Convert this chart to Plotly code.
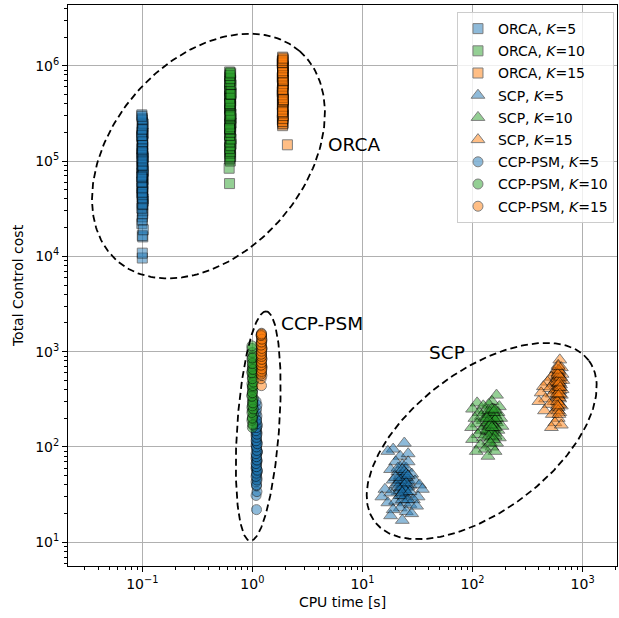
import numpy as np
import plotly.graph_objects as go

# ---------------- data ----------------
ORCA_K5_X = [0.1, 0.1, 0.101, 0.1, 0.099, 0.1, 0.101, 0.1, 0.102, 0.1, 0.099, 0.101, 0.1, 0.1, 0.102, 0.1, 0.099, 0.1, 0.101, 0.1,
             0.1, 0.102, 0.099, 0.1, 0.101, 0.1, 0.1, 0.099, 0.102, 0.1, 0.101, 0.1, 0.1, 0.099, 0.101, 0.1, 0.102, 0.1, 0.1, 0.1,
             0.1, 0.101, 0.099, 0.1, 0.102, 0.1, 0.099, 0.101, 0.1, 0.101, 0.099, 0.1, 0.102, 0.1, 0.099, 0.101, 0.1, 0.101,
             0.099, 0.1, 0.102, 0.1, 0.099, 0.101, 0.1, 0.101, 0.099, 0.1, 0.102, 0.1, 0.099, 0.101, 0.1, 0.101, 0.099, 0.1,
             0.102, 0.1, 0.099, 0.101]
ORCA_K5_Y = [9.6e3, 1.08e4, 1.6e4, 1.65e4, 2.2e4, 2.6e4, 3.0e4, 3.4e4, 3.8e4, 4.2e4, 4.6e4, 5.0e4, 5.4e4, 5.9e4, 6.4e4, 6.9e4,
             7.5e4, 8.1e4, 8.8e4, 9.5e4, 1.03e5, 1.11e5, 1.2e5, 1.3e5, 1.4e5, 1.52e5, 1.65e5, 1.8e5, 1.95e5, 2.1e5, 2.3e5,
             2.55e5, 2.8e5, 3.05e5, 4.8e4, 6.2e4, 7.8e4, 9.9e4, 1.25e5, 1.58e5,
             2.4e4, 2.8e4, 3.2e4, 3.6e4, 4.0e4, 4.4e4, 5.2e4, 5.7e4, 6.6e4, 7.2e4, 8.5e4, 9.2e4, 1.07e5, 1.16e5, 1.35e5,
             1.46e5, 1.72e5, 1.86e5, 2.0e5, 2.2e5, 2.45e5, 2.7e5, 2.95e5, 3.5e4, 4.1e4, 5.3e4, 6.0e4, 7.0e4, 8.2e4, 9.0e4,
             1.08e5, 1.22e5, 1.33e5, 1.6e5, 1.85e5, 2.15e5, 1.9e4, 4.7e4, 6.8e4, 1.0e5]

ORCA_K10_X = [0.62, 0.615, 0.63, 0.62, 0.635, 0.625, 0.63, 0.62, 0.64, 0.625, 0.63, 0.62, 0.635, 0.625, 0.63, 0.62, 0.64, 0.625,
              0.63, 0.62, 0.635, 0.625, 0.63, 0.62, 0.64, 0.625, 0.63, 0.62, 0.635, 0.625, 0.63, 0.62, 0.64, 0.625, 0.63, 0.62,
              0.625, 0.63, 0.62, 0.635, 0.625, 0.64, 0.62, 0.63, 0.625, 0.635, 0.62, 0.63, 0.625, 0.64, 0.62, 0.63, 0.625,
              0.635, 0.62, 0.63, 0.625, 0.64, 0.62, 0.63, 0.625, 0.635, 0.62, 0.63, 0.625, 0.64]
ORCA_K10_Y = [5.8e4, 8.4e4, 1.0e5, 1.05e5, 1.12e5, 1.2e5, 1.3e5, 1.4e5, 1.5e5, 1.62e5, 1.75e5, 1.9e5, 2.05e5, 2.2e5, 2.4e5,
              2.6e5, 2.8e5, 3.0e5, 3.25e5, 3.5e5, 3.8e5, 4.1e5, 4.4e5, 4.8e5, 5.2e5, 5.6e5, 6.0e5, 6.5e5, 7.0e5, 7.6e5,
              8.2e5, 8.6e5, 2.5e5, 3.6e5, 4.6e5, 5.4e5,
              1.1e5, 1.25e5, 1.35e5, 1.45e5, 1.58e5, 1.7e5, 1.85e5, 2.0e5, 2.15e5, 2.3e5, 2.45e5, 2.7e5, 2.9e5, 3.1e5,
              3.4e5, 3.7e5, 3.95e5, 4.25e5, 4.55e5, 5.0e5, 5.8e5, 6.3e5, 6.8e5, 7.3e5, 7.9e5, 8.4e5, 2.2e5, 3.0e5, 4.0e5, 5.0e5]

ORCA_K15_X = [2.08, 1.88, 1.9, 1.87, 1.89, 1.91, 1.88, 1.9, 1.87, 1.89, 1.91, 1.88, 1.9, 1.87, 1.89, 1.91, 1.88, 1.9, 1.87,
              1.89, 1.91, 1.88, 1.9, 1.87, 1.89, 1.91, 1.88, 1.9, 1.87, 1.89, 1.91, 1.88, 1.9, 1.87,
              1.89, 1.88, 1.9, 1.91, 1.87, 1.89, 1.9, 1.88, 1.91, 1.89, 1.87, 1.9, 1.88, 1.89, 1.91, 1.9, 1.87, 1.88, 1.89,
              1.9, 1.91, 1.88, 1.87, 1.89, 1.9, 1.88, 1.91, 1.89, 1.9, 1.88]
ORCA_K15_Y = [1.48e5, 2.35e5, 2.5e5, 2.7e5, 2.9e5, 3.1e5, 3.35e5, 3.6e5, 3.9e5, 4.2e5, 4.5e5, 4.8e5, 5.1e5, 5.5e5, 5.9e5,
              6.3e5, 6.7e5, 7.1e5, 7.6e5, 8.1e5, 8.6e5, 9.2e5, 9.8e5, 1.04e6, 1.1e6, 1.16e6, 1.23e6, 4.0e5, 5.3e5, 6.5e5,
              7.9e5, 9.0e5, 1.0e6, 1.12e6,
              2.45e5, 2.6e5, 2.8e5, 3.0e5, 3.2e5, 3.5e5, 3.75e5, 4.1e5, 4.35e5, 4.65e5, 4.95e5, 5.3e5, 5.7e5, 6.1e5, 6.5e5,
              6.9e5, 7.4e5, 7.8e5, 8.3e5, 8.8e5, 9.5e5, 1.0e6, 1.07e6, 1.14e6, 1.2e6, 3.3e5, 4.4e5, 5.6e5, 7.0e5, 8.5e5]

SCP_K5_X = [24, 19, 17, 22, 26, 20, 23, 25, 18, 21, 28, 24, 22, 19, 26, 23, 20, 25, 27, 22, 24, 21, 18, 26, 23, 30, 33, 35,
            32, 29, 16, 15, 17, 20, 24, 27, 22, 19, 25, 18, 28, 23, 31, 21, 26,
            22, 23, 24, 25, 21, 23, 24, 26, 22, 25, 24, 23, 22, 26, 21, 24, 23, 25, 22, 24, 23, 25, 27, 20, 26]
SCP_K5_Y = [110, 95, 90, 80, 85, 70, 65, 60, 58, 55, 52, 50, 48, 45, 45, 42, 40, 38, 40, 37, 35, 34, 33, 32, 31, 44, 40, 36,
            30, 28, 36, 30, 26, 27, 26, 25, 23, 22, 21, 19, 20, 17, 24, 60, 70,
            50, 47, 44, 48, 42, 38, 40, 38, 35, 34, 30, 28, 31, 28, 38, 55, 58, 52, 45, 36, 33, 42, 34, 48, 50]

SCP_K10_X = [165, 150, 110, 140, 125, 175, 100, 155, 130, 115, 170, 145, 160, 120, 135, 105, 180, 150, 125, 140, 165, 110,
             155, 130, 185, 98, 145, 120, 170, 135, 160, 112, 150, 125, 175, 100, 140, 165, 118, 150, 130, 160, 108, 138, 145,
             140, 150, 145, 155, 135, 160, 150, 140, 155, 145, 160, 135, 150, 165, 140, 155, 145, 150, 160, 140, 155, 145,
             135, 150, 160]
SCP_K10_Y = [350, 300, 290, 280, 270, 265, 250, 250, 240, 230, 230, 225, 215, 210, 205, 200, 200, 195, 190, 185, 180, 175,
             170, 165, 165, 160, 155, 150, 150, 145, 140, 135, 130, 125, 125, 120, 115, 110, 105, 100, 95, 90, 90, 80, 200,
             220, 210, 190, 200, 180, 190, 175, 165, 155, 145, 160, 150, 140, 200, 240, 230, 170, 160, 130, 130, 120, 110,
             200, 250, 245]

SCP_K15_X = [620, 600, 640, 580, 610, 560, 650, 590, 520, 620, 570, 660, 480, 600, 540, 630, 580, 440, 610, 500, 650, 560,
             600, 420, 530, 640, 580, 460, 620, 550, 600, 400, 500, 640, 580, 450, 620, 530, 600, 560, 520, 640,
             600, 610, 590, 620, 600, 610, 590, 620, 600, 610, 590, 620, 600, 580, 630, 605, 595, 615, 585, 625, 600, 610,
             590, 620, 600]
SCP_K15_Y = [820, 720, 680, 650, 620, 600, 580, 560, 540, 530, 510, 500, 480, 480, 460, 450, 440, 430, 420, 410, 400, 390,
             380, 370, 360, 350, 340, 320, 320, 300, 290, 300, 280, 270, 250, 240, 230, 220, 200, 180, 160, 170,
             600, 560, 520, 500, 460, 430, 400, 390, 350, 330, 300, 280, 260, 480, 540, 640, 580, 470, 360, 420, 240, 220,
             270, 360, 700]

CCP_K5_X = [1.09, 1.08, 1.1, 1.09, 1.08, 1.1, 1.09, 1.11, 1.08, 1.09, 1.1, 1.08, 1.09, 1.11, 1.09, 1.08, 1.1, 1.09, 1.08,
            1.1, 1.09, 1.11, 1.08, 1.09, 1.1, 1.08, 1.09, 1.1, 1.08, 1.09, 1.1, 1.11, 1.09, 1.08,
            1.09, 1.1, 1.08, 1.09, 1.11, 1.09, 1.08, 1.1, 1.09, 1.08, 1.1, 1.09, 1.11, 1.08, 1.09, 1.1, 1.08, 1.09, 1.1, 1.09]
CCP_K5_Y = [22, 31, 34, 39, 43, 47, 51, 55, 60, 65, 70, 76, 82, 89, 96, 104, 112, 121, 131, 142, 154, 167, 181, 196, 212,
            230, 250, 275, 300, 58, 72, 88, 110, 140,
            40, 45, 49, 53, 57, 62, 67, 73, 79, 85, 92, 100, 108, 116, 126, 136, 148, 160, 175, 190]

CCP_K10_X = [1.0, 1.01, 0.99, 1.0, 1.02, 1.0, 0.99, 1.01, 1.0, 1.02, 0.99, 1.0, 1.01, 1.0, 0.99, 1.02, 1.0, 1.01, 0.99,
             1.0, 1.02, 1.0, 0.99, 1.01, 1.0, 0.99, 0.99, 1.01, 1.0, 1.02, 1.0,
             1.01, 1.0, 0.99, 1.02, 1.0, 1.01, 0.99, 1.0, 1.01, 1.02, 1.0, 0.99, 1.01, 1.0, 1.0]
CCP_K10_Y = [160, 175, 190, 205, 220, 240, 260, 280, 300, 325, 350, 375, 400, 430, 460, 500, 540, 580, 620, 670, 720, 780,
             840, 900, 980, 1080, 1150, 310, 420, 560, 700,
             170, 200, 230, 250, 270, 290, 340, 370, 440, 480, 520, 600, 650, 750, 860]

CCP_K15_X = [1.21, 1.2, 1.22, 1.21, 1.2, 1.22, 1.21, 1.2, 1.22, 1.21, 1.2, 1.22, 1.21, 1.2, 1.22, 1.21, 1.2, 1.21, 1.22,
             1.2, 1.21, 1.22, 1.2, 1.21,
             1.2, 1.21, 1.22, 1.2, 1.21, 1.22, 1.21, 1.2, 1.21, 1.22, 1.2, 1.21, 1.22, 1.2, 1.21]
CCP_K15_Y = [440, 520, 560, 600, 640, 690, 740, 790, 850, 910, 980, 1050, 1130, 1210, 1300, 1400, 1500, 1560, 700, 820,
             950, 1100, 1250, 1450,
             580, 620, 660, 720, 770, 830, 890, 940, 1010, 1080, 1170, 1260, 1350, 1480, 1530]

SERIES = [
    ("ORCA, <i>K</i>=5", ORCA_K5_X, ORCA_K5_Y, "square", "#1f77b4"),
    ("ORCA, <i>K</i>=10", ORCA_K10_X, ORCA_K10_Y, "square", "#2ca02c"),
    ("ORCA, <i>K</i>=15", ORCA_K15_X, ORCA_K15_Y, "square", "#ff7f0e"),
    ("SCP, <i>K</i>=5", SCP_K5_X, SCP_K5_Y, "triangle-up", "#1f77b4"),
    ("SCP, <i>K</i>=10", SCP_K10_X, SCP_K10_Y, "triangle-up", "#2ca02c"),
    ("SCP, <i>K</i>=15", SCP_K15_X, SCP_K15_Y, "triangle-up", "#ff7f0e"),
    ("CCP-PSM, <i>K</i>=5", CCP_K5_X, CCP_K5_Y, "circle", "#1f77b4"),
    ("CCP-PSM, <i>K</i>=10", CCP_K10_X, CCP_K10_Y, "circle", "#2ca02c"),
    ("CCP-PSM, <i>K</i>=15", CCP_K15_X, CCP_K15_Y, "circle", "#ff7f0e"),
]

X_TICKS = [0.1, 1, 10, 100, 1000]
X_TICK_LABELS = ["10<sup>\u22121</sup>", "10<sup>0</sup>", "10<sup>1</sup>", "10<sup>2</sup>", "10<sup>3</sup>"]
Y_TICKS = [10, 100, 1e3, 1e4, 1e5, 1e6]
Y_TICK_LABELS = ["10<sup>1</sup>", "10<sup>2</sup>", "10<sup>3</sup>", "10<sup>4</sup>", "10<sup>5</sup>", "10<sup>6</sup>"]

# group ellipses: label, centre (log10 x, log10 y), semi-axes (px), angle (deg)
ELLIPSES = [
    ("ORCA", -0.399, 5.052, 139, 96, 49),
    ("CCP-PSM", 0.053, 2.219, 115, 21, 86),
    ("SCP", 2.083, 2.062, 134, 70, 37),
]
GROUP_LABELS = [("ORCA", 0.665, 5.178), ("CCP-PSM", 0.245, 3.30), ("SCP", 1.59, 2.996)]

PX_PER_DEC_X = 110.1
PX_PER_DEC_Y = 95.3

FONT = "DejaVu Sans"
fig = go.Figure()

for i, (name, xs, ys, sym, col) in enumerate(SERIES):
    n = min(len(xs), len(ys))
    size = 12 if sym == "triangle-up" else 10
    fig.add_trace(go.Scatter(
        x=xs[:n], y=ys[:n], mode="markers", name=name, legendgroup=f"g{i}",
        marker=dict(symbol=sym, size=size, color=col, opacity=0.5,
                    line=dict(color="black", width=1)),
    ))

t = np.linspace(0, 2 * np.pi, 240)
for _, cx, cy, a, b, ang in ELLIPSES:
    th = np.deg2rad(ang)
    dx = a * np.cos(t) * np.cos(th) - b * np.sin(t) * np.sin(th)
    dy = a * np.cos(t) * np.sin(th) + b * np.sin(t) * np.cos(th)
    fig.add_trace(go.Scatter(
        x=10 ** (cx + dx / PX_PER_DEC_X), y=10 ** (cy + dy / PX_PER_DEC_Y),
        mode="lines", showlegend=False, hoverinfo="skip",
        line=dict(color="black", width=1.8, dash="7px,4px"),
    ))

for txt, lx, ly in GROUP_LABELS:
    fig.add_annotation(x=lx, y=ly, xref="x", yref="y", text=txt, showarrow=False,
                       xanchor="left", yanchor="middle", font=dict(size=18.5, color="black", family=FONT))

axis_common = dict(
    type="log", showline=True, linecolor="black", linewidth=1, mirror=True,
    ticks="outside", ticklen=5, tickwidth=1, tickcolor="black",
    showgrid=True, gridcolor="#b0b0b0", gridwidth=1, zeroline=False,
    tickfont=dict(size=14, color="black", family=FONT),
    minor=dict(ticks="outside", ticklen=3, tickwidth=0.8, tickcolor="black", dtick="D1", showgrid=False),
)

fig.update_xaxes(**axis_common, range=[-1.675, 3.312], tickvals=X_TICKS, ticktext=X_TICK_LABELS,
                 title=dict(text="CPU time [s]", font=dict(size=14, color="black", family=FONT), standoff=6))
fig.update_yaxes(**axis_common, range=[0.751, 6.637], tickvals=Y_TICKS, ticktext=Y_TICK_LABELS,
                 title=dict(text="Total Control cost", font=dict(size=14, color="black", family=FONT), standoff=8))

fig.update_layout(
    width=619, height=618,
    margin=dict(l=68, r=2, t=5, b=52),
    plot_bgcolor="white", paper_bgcolor="white",
    font=dict(family=FONT, color="black"),
    showlegend=True,
    legend=dict(x=0.9945, y=0.9875, xanchor="right", yanchor="top",
                bgcolor="rgba(255,255,255,0.8)", bordercolor="#cccccc", borderwidth=1,
                font=dict(size=14, color="black", family=FONT), tracegroupgap=1, itemwidth=30),
)

fig.write_html("out.html")
